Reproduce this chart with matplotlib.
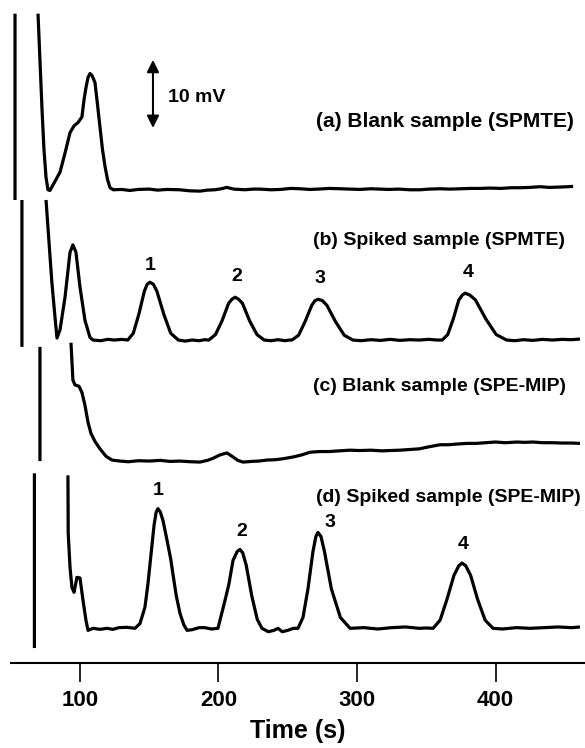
import matplotlib
matplotlib.use("Agg")
import matplotlib.pyplot as plt
import numpy as np

plt.rcParams['font.family'] = ['Liberation Sans', 'DejaVu Sans']
plt.rcParams['font.weight'] = 'bold'

nan = float('nan')

# chromatograms: (time s, signal mV above own baseline); nan breaks the off-scale injection spike
trace_a = [(53.1, -1.5), (53.1, 25.9), (nan, nan),
           (69.7, 25.9), (71.1, 19.1), (72.6, 11.8), (74.0, 5.9), (75.5, 1.8), (76.9, 0.0),
           (78.3, -0.1), (80.5, 0.7), (85.6, 2.6), (89.2, 5.4), (92.8, 8.4), (95.7, 9.4),
           (98.6, 9.9), (101.4, 10.7), (102.9, 13.2), (104.3, 15.0), (105.8, 16.5), (107.2, 17.1),
           (108.7, 16.8), (110.8, 15.8), (112.5, 12.8), (114.4, 9.3), (116.2, 6.0), (118.1, 3.4),
           (119.9, 1.5), (121.7, 0.3), (124, 0.0),
           (130, 0.05), (136, -0.1), (142, 0.05), (150, 0.1), (156, -0.05), (163, 0.05), (172, 0.0),
           (179, -0.15), (186.6, -0.2), (192, -0.05), (197.5, 0.0), (202, 0.15), (206, 0.35),
           (211, 0.1), (219, 0.0), (225, 0.1), (230, 0.1), (238, 0.0), (245, 0.05), (252, 0.2),
           (259, 0.15), (266, 0.05), (272, 0.1), (280, 0.2), (288, 0.15), (295, 0.1), (302, 0.05),
           (310, 0.15), (316.6, 0.1), (323, 0.05), (330, 0.1), (338, 0.0), (345.5, 0.0), (352, 0.1),
           (360, 0.15), (367, 0.1), (375, 0.15), (382, 0.2), (389, 0.2), (396, 0.25), (404, 0.2),
           (411, 0.3), (418, 0.3), (425, 0.35), (432, 0.45), (439, 0.35), (446.6, 0.4), (452, 0.45),
           (456, 0.5)]

trace_b = [(58.1, -1.0), (58.1, 20.6), (nan, nan),
           (75.5, 20.6), (77.6, 14.5), (79.7, 8.5), (81.9, 3.5), (83.4, 0.3), (85.6, 1.5),
           (89.2, 6.3), (92.8, 12.9), (94.9, 14.0), (97.1, 12.9), (100.0, 7.8), (103.6, 2.9),
           (107.2, 0.4), (109.4, 0.0), (115, -0.1), (120, 0.1), (125, 0.0), (130, 0.1),
           (134.5, 0.0), (138.5, 1.0), (142.5, 3.8), (146.5, 7.2), (148.5, 8.2), (150.5, 8.5),
           (153.0, 8.2), (155.5, 7.2), (160.5, 3.8), (165.5, 1.0), (171.0, 0.0),
           (176, -0.15), (181, 0.0), (186, -0.1), (190, 0.05),
           (193.0, 0.0), (197.8, 0.8), (202.5, 2.8), (207.3, 5.4), (209.7, 6.0), (212.0, 6.3),
           (214.5, 6.0), (217.3, 5.4), (222.5, 2.8), (227.8, 0.8), (233.0, 0.0),
           (238, -0.1), (243, 0.05), (248, -0.1), (251, 0.0),
           (253.0, 0.0), (257.8, 0.7), (262.5, 2.7), (267.3, 5.1), (269.7, 5.8), (272.0, 6.0),
           (275.0, 5.8), (278.3, 5.1), (284.5, 2.7), (290.8, 0.7), (297.0, 0.0),
           (303, -0.1), (310, 0.05), (317, -0.05), (324, 0.1), (331, -0.05), (338, 0.05),
           (345, 0.0), (352, 0.1), (358, 0.0),
           (361.5, 0.0), (365.5, 0.8), (369.5, 3.1), (373.5, 5.9), (376.0, 6.6), (378.0, 6.9),
           (381.5, 6.6), (385.5, 5.9), (393.0, 3.1), (400.5, 0.8), (408.0, 0.0),
           (414, -0.1), (420, 0.05), (427, -0.05), (434, 0.1), (441, 0.0), (448, 0.1),
           (455, 0.05), (461, 0.15)]

trace_c = [(71.1, 0.0), (71.1, 16.8), (nan, nan),
           (93.5, 17.4), (94.9, 11.9), (96.4, 11.2), (99.3, 11.0), (101.4, 10.1), (103.6, 8.2),
           (105.8, 5.7), (107.9, 4.1), (110.8, 2.9), (114.4, 1.8), (118.8, 0.7), (123.1, 0.15),
           (128.9, 0.0), (135, -0.1), (142, 0.05), (150, 0.0), (158, 0.1), (165, -0.05),
           (172, 0.0), (180, -0.1), (186.6, -0.15), (192, 0.1), (196, 0.4), (201, 0.9),
           (206.1, 1.2), (210.5, 0.6), (214, 0.1), (217.7, -0.15), (224, -0.05), (229, 0.0),
           (235, 0.15), (241, 0.2), (247, 0.35), (253.8, 0.6), (260, 0.9), (266.1, 1.3),
           (273, 1.4), (280, 1.4), (287, 1.5), (294.9, 1.6), (302, 1.55), (310, 1.6), (318, 1.5),
           (324, 1.55), (331, 1.6), (338, 1.7), (345, 1.8), (352, 2.1), (359.9, 2.4), (366, 2.4),
           (372, 2.5), (379.4, 2.6), (386, 2.6), (393, 2.7), (400, 2.8), (407, 2.7), (415.5, 2.8),
           (421, 2.75), (427.1, 2.8), (434, 2.7), (441, 2.7), (448, 2.65), (455, 2.65), (461, 2.6)]

trace_d = [(67.1, -2.9), (67.1, 22.8), (nan, nan),
           (91.3, 22.5), (91.5, 14.0), (92.8, 9.0), (94.2, 6.0), (95.7, 5.3), (97.8, 7.5),
           (100.0, 7.4), (102.2, 4.1), (104.3, 1.2), (105.8, -0.3), (109.4, 0.0), (114.4, -0.15),
           (119.5, 0.0), (123.8, -0.15), (128, 0.1), (133.9, 0.15), (139.7, 0.0),
           (143.3, 0.7), (146.9, 3.1), (149.1, 6.6), (151.5, 11.3), (153.5, 15.2), (155.0, 17.1),
           (156.3, 17.6), (158.0, 17.1), (160.0, 15.8), (163.0, 12.8), (165.5, 10.2),
           (167.1, 8.0), (169.5, 4.8), (172.2, 2.2), (175.0, 0.5), (177.3, -0.3), (181.0, -0.2),
           (186.0, 0.1), (190.0, 0.1), (195.0, -0.1),
           (199.6, 0.0), (204.7, 4.1), (207.5, 6.5), (210.5, 10.0), (213.5, 11.3), (215.5, 11.6),
           (217.5, 11.1), (220.0, 9.3), (224.0, 4.8), (228.0, 1.3), (231.4, 0.0),
           (236, -0.5), (240, -0.3), (243, 0.0), (246, -0.5), (250, -0.3), (254, 0.0),
           (257.4, 0.0), (261.0, 1.6), (264.6, 5.8), (268.2, 11.3), (270.3, 13.5), (271.8, 14.1),
           (274.0, 13.5), (276.5, 11.3), (281.5, 5.8), (288.0, 1.6), (295.0, 0.0),
           (305, 0.1), (315, -0.1), (325, 0.1), (335, 0.2), (345, 0.0), (350, 0.05),
           (354.9, 0.0), (360.0, 1.2), (365.0, 4.3), (370.0, 7.8), (373.5, 9.2), (375.8, 9.6),
           (378.5, 9.2), (382.0, 7.8), (387.0, 4.3), (392.5, 1.2), (398.2, 0.0),
           (405, -0.1), (415, 0.1), (425, 0.0), (435, 0.1), (445, 0.2), (455, 0.1), (461, 0.2)]

traces = [trace_a, trace_b, trace_c, trace_d]
offsets = [69.6, 47.5, 29.7, 5.1]   # vertical stacking (mV)

labels = ['(a) Blank sample (SPMTE)', '(b) Spiked sample (SPMTE)',
          '(c) Blank sample (SPE-MIP)', '(d) Spiked sample (SPE-MIP)']
label_pos = [(270.4, 79.6), (268.5, 62.2), (268.5, 40.6), (270.4, 24.4)]
label_size = [15, 14, 14, 14]

peak_names = ['1', '2', '3', '4']
peak_pos_b = [(150.5, 58.5), (213.4, 56.8), (273.3, 56.5), (380.1, 57.4)]
peak_pos_d = [(156.3, 25.4), (217.0, 19.3), (280.5, 20.7), (376.5, 17.4)]

xticks = [100, 200, 300, 400]

fig = plt.figure(figsize=(5.85, 7.48), dpi=100)
ax = fig.add_axes([11 / 585, 1 - 663 / 748, 574 / 585, 650 / 748])

for tr, off in zip(traces, offsets):
    arr = np.array(tr, dtype=float)
    ax.plot(arr[:, 0], arr[:, 1] + off, color='black', lw=2.3,
            solid_joinstyle='round', solid_capstyle='butt')

for txt, (x, y), fs in zip(labels, label_pos, label_size):
    ax.text(x, y, txt, fontsize=fs, fontweight='bold', ha='left', va='center')

for name, (x, y) in zip(peak_names, peak_pos_b):
    ax.text(x, y, name, fontsize=14, fontweight='bold', ha='center', va='center')
for name, (x, y) in zip(peak_names, peak_pos_d):
    ax.text(x, y, name, fontsize=14, fontweight='bold', ha='center', va='center')

# 10 mV scale bar
ax.annotate('', xy=(152.7, 88.7), xytext=(152.7, 78.7),
            arrowprops=dict(arrowstyle='<|-|>', color='black', lw=1.5,
                            mutation_scale=18, shrinkA=0, shrinkB=0))
ax.text(163.5, 83.1, '10 mV', fontsize=14, fontweight='bold', ha='left', va='center')

ax.set_xlim(50.2, 464.6)
ax.set_ylim(0, 95.6)
for s in ['top', 'right', 'left']:
    ax.spines[s].set_visible(False)
ax.spines['bottom'].set_linewidth(1.5)
ax.set_yticks([])
ax.set_xticks(xticks)
ax.tick_params(axis='x', direction='out', length=13.5, width=1.2, pad=6, labelsize=16)
for lab in ax.get_xticklabels():
    lab.set_fontweight('bold')
ax.set_xlabel('Time (s)', fontsize=18, fontweight='bold', labelpad=6)

fig.savefig('out.png', dpi=100)
